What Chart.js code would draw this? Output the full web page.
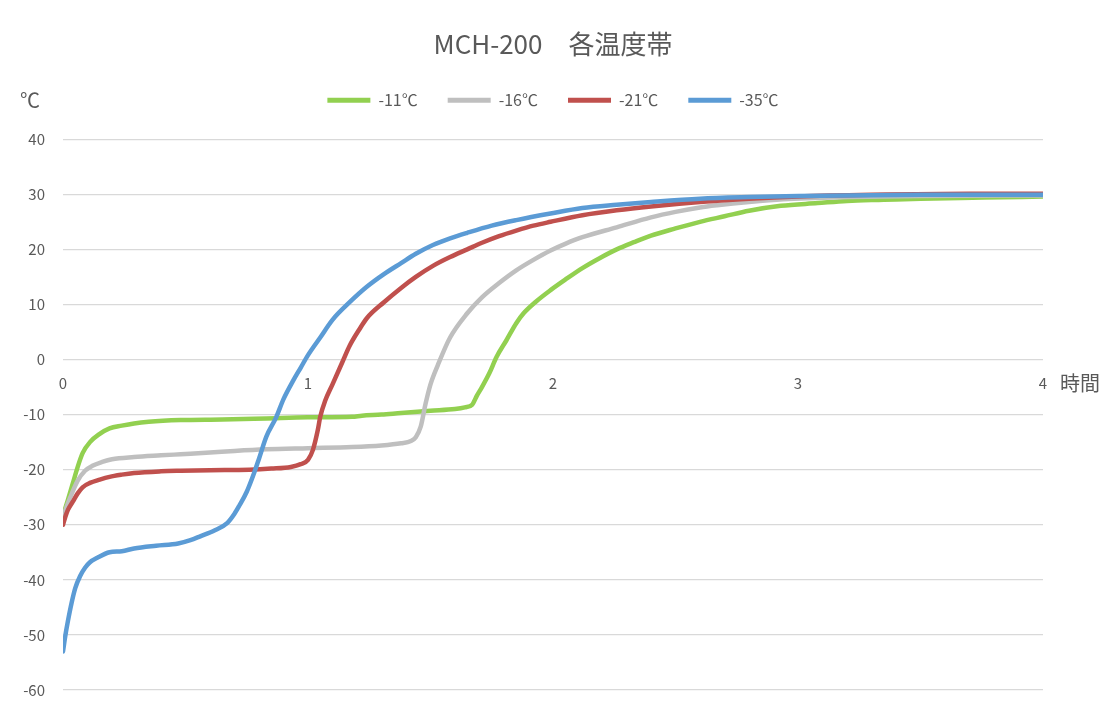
<!DOCTYPE html>
<html>
<head>
<meta charset="utf-8">
<script src="https://cdn.jsdelivr.net/npm/chart.js@4.4.1/dist/chart.umd.min.js"></script>
<style>
html,body{margin:0;padding:0;background:#fff;}
#wrap{width:1106px;height:717px;position:relative;}
</style>
</head>
<body>
<div id="wrap"><canvas id="c"></canvas></div>
<script>
const chartTitle = 'MCH-200\u3000各温度帯';
const seriesLabels = ['-11℃', '-16℃', '-21℃', '-35℃'];
const seriesColors = ['#92D050', '#BFBFBF', '#C0504D', '#5B9BD5'];
const yTickValues = [-60, -50, -40, -30, -20, -10, 0, 10, 20, 30, 40];
const xTickValues = [0, 1, 2, 3, 4];
const xUnit = '時間';
const yUnit = '℃';

const t11 = [0,0.02,0.04,0.06,0.08,0.11,0.15,0.19,0.24,0.29,0.35,0.48,0.65,0.83,1.0,1.18,1.22,1.3,1.38,1.5,1.6,1.64,1.67,1.69,1.71,1.74,1.77,1.81,1.85,1.88,1.93,1.99,2.05,2.12,2.19,2.26,2.33,2.4,2.5,2.6,2.7,2.8,2.93,3.08,3.2,3.35,3.5,3.76,4];
const v11 = [-28.3,-25.5,-22.5,-19.5,-17,-15,-13.5,-12.5,-12,-11.6,-11.3,-11,-10.9,-10.7,-10.5,-10.4,-10.2,-10,-9.7,-9.3,-9,-8.7,-8.2,-6.5,-5,-2.5,0.5,3.5,6.6,8.4,10.5,12.6,14.5,16.6,18.4,20,21.3,22.5,23.8,25,26,27,27.9,28.4,28.8,29,29.2,29.4,29.6];

const t16 = [0,0.03,0.06,0.09,0.12,0.16,0.2,0.29,0.4,0.48,0.6,0.7,0.83,1.0,1.18,1.3,1.38,1.42,1.44,1.46,1.48,1.5,1.53,1.58,1.65,1.71,1.78,1.85,1.92,1.99,2.05,2.12,2.26,2.4,2.5,2.6,2.67,2.8,2.94,3.21,3.5,4];
const v16 = [-28.5,-25,-22,-20.2,-19.3,-18.6,-18.1,-17.7,-17.4,-17.2,-16.9,-16.6,-16.3,-16.1,-15.9,-15.6,-15.2,-14.8,-14.1,-12.2,-8,-4.5,-1,4,8.4,11.3,13.9,16.2,18.1,19.8,21,22.2,24,25.8,26.8,27.6,28,28.6,29.1,29.5,29.7,29.8];

const t21 = [0,0.01,0.02,0.04,0.06,0.08,0.11,0.15,0.19,0.24,0.29,0.4,0.48,0.6,0.76,0.85,0.93,0.97,1.0,1.02,1.04,1.05,1.07,1.1,1.14,1.17,1.21,1.24,1.31,1.38,1.44,1.51,1.58,1.65,1.71,1.78,1.85,1.92,1.99,2.12,2.26,2.4,2.6,2.8,3.0,3.3,3.7,4];
const v21 = [-30,-28.5,-27.3,-25.8,-24.3,-23.2,-22.4,-21.8,-21.3,-20.9,-20.6,-20.3,-20.2,-20.1,-20,-19.8,-19.5,-19,-18.2,-16.4,-12.8,-10.4,-7.5,-4.5,-0.5,2.5,5.5,7.5,10.4,13,15,17,18.6,20,21.2,22.4,23.4,24.3,25,26.2,27.1,27.8,28.6,29.2,29.6,29.9,30.1,30.1];

const t35 = [0,0.01,0.02,0.035,0.05,0.07,0.09,0.11,0.14,0.19,0.24,0.29,0.38,0.47,0.52,0.56,0.62,0.67,0.7,0.72,0.75,0.78,0.8,0.83,0.87,0.9,0.94,0.97,1.0,1.05,1.1,1.17,1.24,1.31,1.38,1.44,1.51,1.58,1.65,1.75,1.85,1.99,2.12,2.26,2.4,2.6,2.8,3.0,3.5,4];
const v35 = [-53,-50,-47.5,-44.2,-41.5,-39.3,-37.8,-36.8,-36,-35,-34.8,-34.3,-33.8,-33.4,-32.8,-32.1,-31,-29.7,-28,-26.5,-24,-20.6,-18,-14,-10.5,-7.2,-3.8,-1.5,0.8,4,7.2,10.4,13.2,15.5,17.5,19.2,20.8,22,23,24.3,25.3,26.5,27.5,28.1,28.6,29.2,29.5,29.7,29.9,29.9];

const seriesTimes = [t11, t16, t21, t35];
const seriesValues = [v11, v16, v21, v35];

const FONT = "'Noto Sans CJK JP', 'Noto Sans', sans-serif";
const TEXT = '#595959';

const datasets = seriesLabels.map((lab, i) => ({
  label: lab,
  data: seriesTimes[i].map((t, k) => ({x: t, y: seriesValues[i][k]})),
  borderColor: seriesColors[i],
  backgroundColor: seriesColors[i],
  borderWidth: 4.5,
  pointRadius: 0,
  cubicInterpolationMode: 'monotone',
  borderCapStyle: 'round',
  borderJoinStyle: 'round',
  order: seriesLabels.length - i
}));

const unitsPlugin = {
  id: 'units',
  beforeInit(chart) {
    const lg = chart.legend;
    if (lg) {
      const orig = lg.fit;
      lg.fit = function () { orig.call(this); this.height += 21; };
    }
  },
  afterDraw(chart) {
    const ctx = chart.ctx;
    const xs = chart.scales.x, ys = chart.scales.y;
    ctx.save();
    ctx.fillStyle = TEXT;
    ctx.font = '20px ' + FONT;
    ctx.textBaseline = 'middle';
    ctx.textAlign = 'left';
    ctx.fillText(xUnit, xs.getPixelForValue(4) + 17, ys.getPixelForValue(0) + 24);
    ctx.textAlign = 'center';
    ctx.fillText(yUnit, 30, 100);
    ctx.restore();
  }
};

new Chart(document.getElementById('c'), {
  type: 'line',
  data: { datasets },
  plugins: [unitsPlugin],
  options: {
    responsive: true,
    maintainAspectRatio: false,
    animation: false,
    layout: { padding: { left: 0, right: 0, top: 0, bottom: 27 } },
    plugins: {
      tooltip: { enabled: false },
      title: {
        display: true,
        text: chartTitle,
        color: TEXT,
        font: { family: FONT, size: 26, weight: 'normal' },
        padding: { top: 29, bottom: 2 }
      },
      legend: {
        display: true,
        position: 'top',
        labels: {
          color: TEXT,
          font: { family: FONT, size: 16 },
          boxWidth: 43,
          boxHeight: 5,
          padding: 30,
          sort: (a, b) => a.datasetIndex - b.datasetIndex,
          generateLabels(chart) {
            const items = Chart.defaults.plugins.legend.labels.generateLabels(chart);
            items.forEach(it => { it.lineWidth = 0; it.fillStyle = it.strokeStyle; });
            return items;
          }
        }
      }
    },
    scales: {
      x: {
        type: 'linear',
        min: 0,
        max: 4,
        position: { y: 0 },
        afterBuildTicks(scale) { scale.ticks = xTickValues.map(v => ({value: v})); },
        grid: { display: false, drawTicks: false },
        border: { display: false },
        ticks: { color: TEXT, font: { family: FONT, size: 15 }, padding: 15, maxRotation: 0 }
      },
      y: {
        min: -60,
        max: 40,
        afterBuildTicks(scale) { scale.ticks = yTickValues.map(v => ({value: v})); },
        afterFit(scale) { scale.width = 63; },
        grid: { color: '#d9d9d9', lineWidth: 1.3, drawTicks: false },
        border: { display: false },
        ticks: { color: TEXT, font: { family: FONT, size: 15 }, padding: 18 }
      },
      yRight: {
        position: 'right',
        min: -60,
        max: 40,
        afterFit(scale) { scale.width = 63; },
        grid: { display: false, drawTicks: false },
        border: { display: false },
        ticks: { display: false }
      }
    }
  }
});
</script>
</body>
</html>
